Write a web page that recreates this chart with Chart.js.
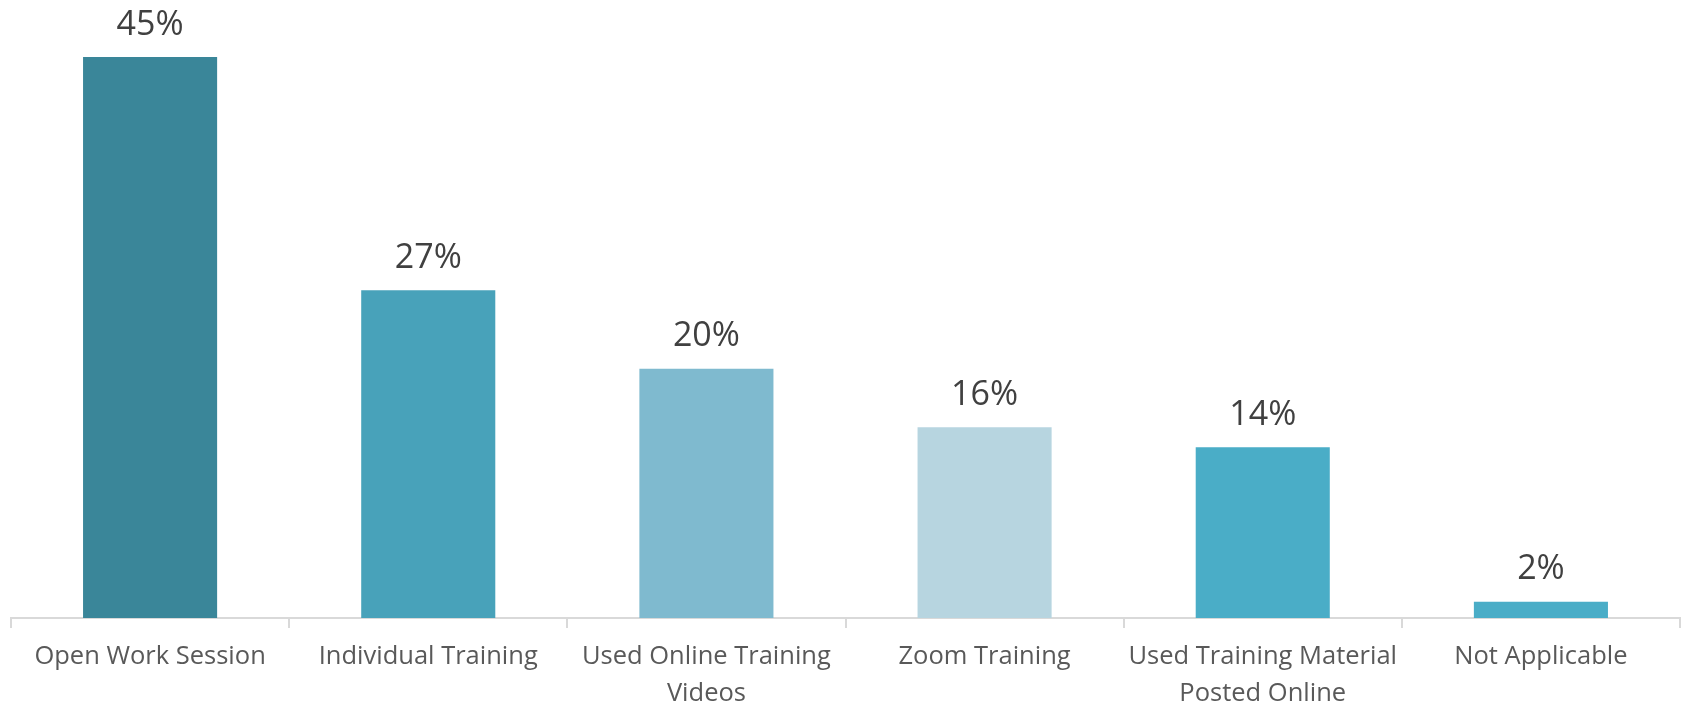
<!DOCTYPE html>
<html>
<head>
<meta charset="utf-8">
<script src="https://cdn.jsdelivr.net/npm/chart.js@4/dist/chart.umd.min.js"></script>
<style>
  html, body { margin: 0; padding: 0; background: #ffffff; }
  #wrap { width: 1685px; height: 704px; position: relative; }
</style>
</head>
<body>
<div id="wrap"><canvas id="c" width="1685" height="704"></canvas></div>
<script>
// ---- data ----
const categories = [
  "Open Work Session",
  "Individual Training",
  ["Used Online Training", "Videos"],
  "Zoom Training",
  ["Used Training Material", "Posted Online"],
  "Not Applicable"
];
const shares = [45, 26.3, 20.0, 15.3, 13.7, 1.3];
const shareLabels = ["45%", "27%", "20%", "16%", "14%", "2%"];
const barColors = ["#3A8699", "#48A2BA", "#7FBACF", "#B7D5E0", "#4AADC7", "#4AADC7"];

const valueLabelPlugin = {
  id: 'valueLabels',
  afterDatasetsDraw(chart) {
    const ctx = chart.ctx;
    const meta = chart.getDatasetMeta(0);
    ctx.save();
    ctx.font = '34px "Open Sans"';
    ctx.fillStyle = '#404040';
    ctx.textAlign = 'center';
    ctx.textBaseline = 'middle';
    meta.data.forEach((bar, i) => {
      ctx.fillText(shareLabels[i], bar.x, bar.y - 32);
    });
    ctx.restore();
  }
};

new Chart(document.getElementById('c'), {
  type: 'bar',
  data: {
    labels: categories,
    datasets: [{
      data: shares,
      backgroundColor: barColors,
      borderWidth: 0,
      categoryPercentage: 1.0,
      barPercentage: 0.482
    }]
  },
  options: {
    responsive: false,
    animation: false,
    layout: { padding: { top: 57, left: 11, right: 5, bottom: 0 } },
    plugins: { legend: { display: false }, tooltip: { enabled: false } },
    scales: {
      y: { display: false, min: 0, max: 45 },
      x: {
        offset: true,
        grid: {
          offset: true,
          display: true,
          drawOnChartArea: false,
          drawTicks: true,
          tickLength: 10,
          color: '#D9D9D9',
          lineWidth: 2
        },
        border: { display: true, color: '#D9D9D9', width: 2 },
        ticks: {
          color: '#595959',
          font: { family: '"Open Sans"', size: 25.5, lineHeight: 1.42 },
          padding: 11,
          maxRotation: 0,
          minRotation: 0,
          autoSkip: false
        },
        afterFit(scale) { scale.height = 86; }
      }
    }
  },
  plugins: [valueLabelPlugin]
});
</script>
</body>
</html>
